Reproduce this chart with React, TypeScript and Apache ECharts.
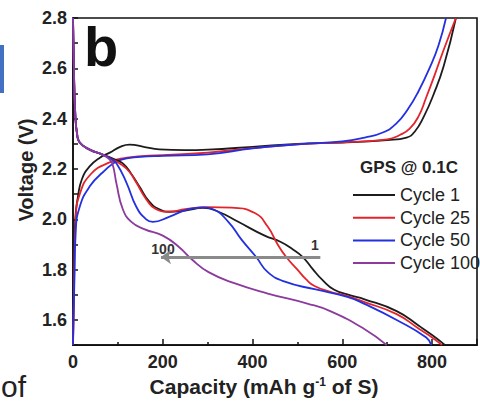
import React, { useEffect, useRef } from "react";
import * as echarts from "echarts";

const xTicks = [0, 200, 400, 600, 800];
const yTicks = [1.6, 1.8, 2.0, 2.2, 2.4, 2.6, 2.8];
const legendNames = ["Cycle 1", "Cycle 25", "Cycle 50", "Cycle 100"];
const colors = ["#1c1c1c", "#e3242b", "#2330e0", "#8c3a9c"];

const cycle1Charge = [
  [0, 1.5], [2, 1.8], [5, 2.0], [11, 2.09], [20, 2.16], [37, 2.21], [60, 2.245], [82, 2.265],
  [105, 2.288], [126, 2.297], [160, 2.287], [192, 2.278], [250, 2.275], [300, 2.277], [400, 2.288],
  [500, 2.3], [600, 2.305], [700, 2.315], [743, 2.325], [762, 2.35], [782, 2.41], [803, 2.495],
  [826, 2.61], [853, 2.8],
];
const cycle25Charge = [
  [0, 1.5], [3, 1.8], [6, 2.0], [15, 2.1], [40, 2.18], [80, 2.225], [120, 2.245], [200, 2.255],
  [300, 2.265], [400, 2.283], [500, 2.298], [600, 2.306], [700, 2.318], [728, 2.335], [750, 2.36],
  [770, 2.41], [787, 2.485], [805, 2.57], [825, 2.67], [853, 2.8],
];
const cycle50Charge = [
  [0, 1.5], [3, 1.75], [6, 1.95], [15, 2.05], [37, 2.13], [66, 2.186], [104, 2.235], [150, 2.248],
  [200, 2.252], [300, 2.258], [400, 2.282], [500, 2.298], [600, 2.31], [650, 2.325], [690, 2.345],
  [720, 2.38], [747, 2.44], [770, 2.51], [794, 2.6], [814, 2.69], [831, 2.8],
];

const cycle1Discharge = [
  [0, 2.8], [2, 2.6], [5, 2.42], [9, 2.34], [15, 2.305], [37, 2.277], [66, 2.257], [90, 2.24],
  [111, 2.222], [130, 2.18], [148, 2.13], [170, 2.07], [192, 2.04], [214, 2.03], [250, 2.035],
  [290, 2.045], [324, 2.03], [368, 1.99], [427, 1.935], [463, 1.91], [490, 1.88],
  [512, 1.85], [535, 1.8], [555, 1.76], [582, 1.72], [620, 1.697], [648, 1.683], [721, 1.635],
  [772, 1.575], [800, 1.54], [829, 1.5],
];
const cycle25Discharge = [
  [0, 2.8], [2, 2.6], [5, 2.42], [9, 2.34], [15, 2.305], [37, 2.277], [66, 2.257], [88, 2.237],
  [104, 2.222], [125, 2.19], [141, 2.146], [163, 2.08], [185, 2.04], [214, 2.03], [250, 2.04],
  [300, 2.048], [353, 2.046], [405, 2.025], [434, 1.97], [456, 1.9], [475, 1.85], [500, 1.8],
  [520, 1.76], [538, 1.735], [573, 1.712], [611, 1.695], [648, 1.672], [721, 1.623], [772, 1.563],
  [800, 1.53], [822, 1.5],
];
const cycle50Discharge = [
  [0, 2.8], [2, 2.6], [5, 2.42], [9, 2.34], [15, 2.305], [37, 2.277], [66, 2.257], [85, 2.24],
  [97, 2.222], [119, 2.146], [141, 2.05], [163, 2.0], [178, 1.99], [214, 2.01], [258, 2.04],
  [290, 2.047], [312, 2.04], [346, 1.99], [375, 1.92], [408, 1.85], [434, 1.79], [472, 1.752],
  [538, 1.722], [611, 1.692], [648, 1.665], [721, 1.6], [787, 1.53], [798, 1.5],
];
const cycle100Discharge = [
  [0, 2.8], [2, 2.6], [5, 2.42], [9, 2.34], [15, 2.305], [37, 2.277], [66, 2.257], [80, 2.24],
  [88, 2.22], [97, 2.14], [111, 2.04], [130, 1.99], [160, 1.96], [200, 1.935], [236, 1.89],
  [265, 1.84], [302, 1.79], [361, 1.745], [434, 1.705], [522, 1.665], [573, 1.635], [648, 1.565],
  [699, 1.5],
];

const arrowFrom = [551, 1.85];
const arrowTo = [196, 1.85];

const FONT = "'Liberation Sans', Arial, sans-serif";

export default function App() {
  const ref = useRef<HTMLDivElement>(null);
  useEffect(() => {
    document.body.style.margin = "0";
    const chart = echarts.init(ref.current!, null, { renderer: "svg" });
    const mk = (name: string, data: number[][], color: string) => ({
      type: "line",
      name,
      data,
      showSymbol: false,
      symbol: "none",
      smooth: 0.5,
      lineStyle: { color, width: 1.8 },
      itemStyle: { color },
      z: 3,
    });
    chart.setOption({
      animation: false,
      grid: {
        left: 73, top: 18, width: 408, height: 328,
        show: true, borderColor: "#111", borderWidth: 1.6, backgroundColor: "transparent",
      },
      xAxis: {
        type: "value", min: 0, max: 900, interval: 200,
        axisLine: { show: true, lineStyle: { color: "#111", width: 1.6 } },
        axisTick: { show: true, inside: true, length: 6, lineStyle: { color: "#111", width: 1.5 } },
        minorTick: { show: true, splitNumber: 2, length: 3, lineStyle: { color: "#111", width: 1.5 } },
        splitLine: { show: false },
        axisLabel: {
          margin: 8, color: "#222", fontFamily: FONT, fontWeight: "bold", fontSize: 18,
          formatter: (v: number) => (xTicks.includes(v) ? String(v) : ""),
        },
        name: "Capacity (mAh g{sup|-1} of S)",
        nameLocation: "middle",
        nameGap: 30,
        nameTextStyle: {
          color: "#222", fontFamily: FONT, fontWeight: "bold", fontSize: 21, padding: [0, 22, 0, 0],
          rich: { sup: { fontSize: 12, fontWeight: "bold", fontFamily: FONT, color: "#222", padding: [0, 0, 9, 0] } },
        },
      },
      yAxis: {
        type: "value", min: 1.5, max: 2.8, interval: 0.1,
        axisLine: { show: true, lineStyle: { color: "#111", width: 1.6 } },
        axisTick: { show: true, inside: true, length: 5, lineStyle: { color: "#111", width: 1.5 } },
        splitLine: { show: false },
        axisLabel: {
          margin: 6, color: "#222", fontFamily: FONT, fontWeight: "bold", fontSize: 18,
          formatter: (v: number) => (yTicks.some((t) => Math.abs(t - v) < 1e-6) ? v.toFixed(1) : ""),
        },
      },
      legend: {
        data: legendNames,
        orient: "vertical",
        left: 348,
        top: 181,
        icon: "rect",
        itemWidth: 42,
        itemHeight: 2,
        itemGap: 4.7,
        textStyle: { fontFamily: FONT, fontSize: 18, color: "#222", lineHeight: 18 },
      },
      series: [
        mk("Cycle 1", cycle1Charge, colors[0]),
        mk("Cycle 25", cycle25Charge, colors[1]),
        mk("Cycle 50", cycle50Charge, colors[2]),
        mk("Cycle 1", cycle1Discharge, colors[0]),
        mk("Cycle 25", cycle25Discharge, colors[1]),
        mk("Cycle 50", cycle50Discharge, colors[2]),
        mk("Cycle 100", cycle100Discharge, colors[3]),
        {
          type: "line",
          name: "arrow",
          data: [],
          markLine: {
            silent: true,
            symbol: ["none", "arrow"],
            symbolSize: [11, 10],
            label: { show: false },
            lineStyle: { color: "#8a8a8a", width: 3, type: "solid" },
            data: [[{ coord: arrowFrom }, { coord: arrowTo }]],
          },
          z: 2,
        },
      ],
      graphic: [
        { type: "text", left: 84, top: 18, style: { text: "b", font: `bold 56px ${FONT}`, fill: "#111" } },
        {
          type: "text", x: 26, y: 170, rotation: Math.PI / 2,
          style: { text: "Voltage (V)", font: `bold 20px ${FONT}`, fill: "#222", textAlign: "center", textVerticalAlign: "middle" },
        },
        {
          type: "text", x: 409, y: 167,
          style: { text: "GPS @ 0.1C", font: `bold 17px ${FONT}`, fill: "#222", textAlign: "center", textVerticalAlign: "middle" },
        },
        {
          type: "text", x: 163, y: 249,
          style: { text: "100", font: `bold 14px ${FONT}`, fill: "#333", textAlign: "center", textVerticalAlign: "middle" },
        },
        {
          type: "text", x: 315, y: 245,
          style: { text: "1", font: `bold 14px ${FONT}`, fill: "#333", textAlign: "center", textVerticalAlign: "middle" },
        },
        { type: "rect", shape: { x: -2, y: 45, width: 6, height: 48 }, style: { fill: "#4470c4" } },
        {
          type: "text", x: 1, y: 401,
          style: { text: "of", font: `30px ${FONT}`, fill: "#222", textAlign: "left", textVerticalAlign: "bottom" },
        },
      ],
    });
    return () => chart.dispose();
  }, []);
  return <div ref={ref} style={{ width: 480, height: 402 }} />;
}
